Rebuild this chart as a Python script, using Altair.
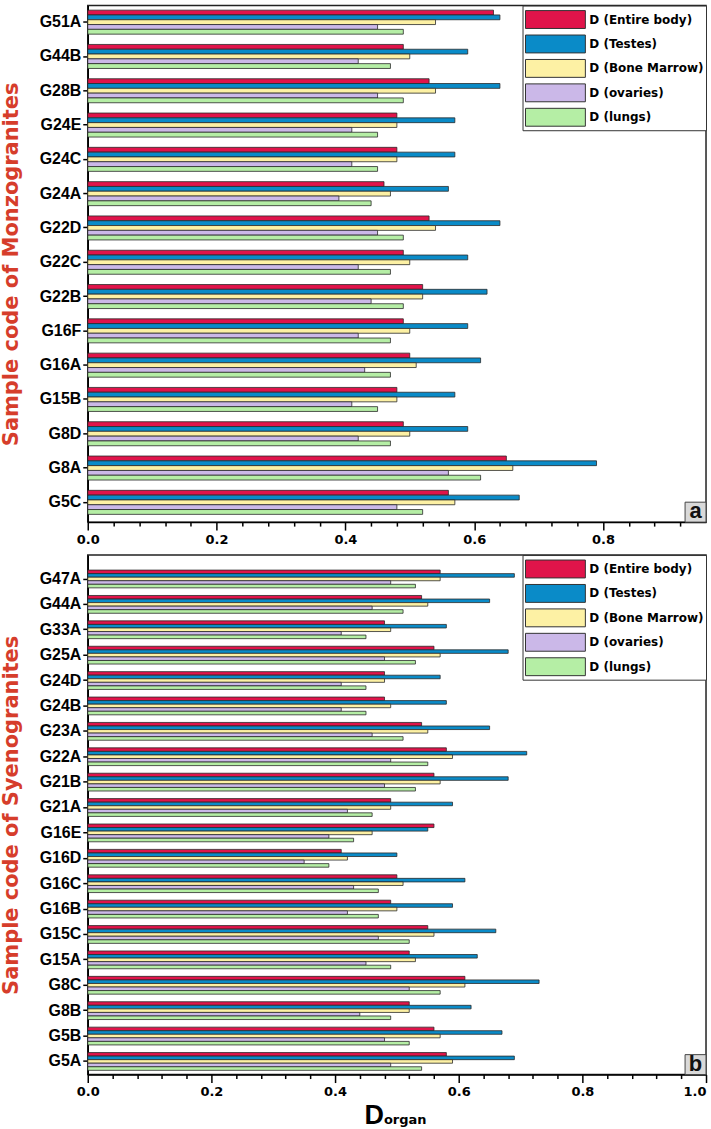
import altair as alt
import pandas as pd

# Organ dose series, in legend / drawing order
SERIES = ["D (Entire body)", "D (Testes)", "D (Bone Marrow)", "D (ovaries)", "D (lungs)"]
COLORS = ["#e0144a", "#0a8bc8", "#fdf1a4", "#cbb8e8", "#b5eea5"]

# Panel a: monzogranites (top to bottom)
monzo_samples = ["G51A", "G44B", "G28B", "G24E", "G24C", "G24A", "G22D", "G22C",
                 "G22B", "G16F", "G16A", "G15B", "G8D", "G8A", "G5C"]
monzo_body = [0.63, 0.49, 0.53, 0.48, 0.48, 0.46, 0.53, 0.49, 0.52, 0.49, 0.50, 0.48, 0.49, 0.65, 0.56]
monzo_testes = [0.64, 0.59, 0.64, 0.57, 0.57, 0.56, 0.64, 0.59, 0.62, 0.59, 0.61, 0.57, 0.59, 0.79, 0.67]
monzo_marrow = [0.54, 0.50, 0.54, 0.48, 0.48, 0.47, 0.54, 0.50, 0.52, 0.50, 0.51, 0.48, 0.50, 0.66, 0.57]
monzo_ovaries = [0.45, 0.42, 0.45, 0.41, 0.41, 0.39, 0.45, 0.42, 0.44, 0.42, 0.43, 0.41, 0.42, 0.56, 0.48]
monzo_lungs = [0.49, 0.47, 0.49, 0.45, 0.45, 0.44, 0.49, 0.47, 0.49, 0.47, 0.47, 0.45, 0.47, 0.61, 0.52]

# Panel b: syenogranites (top to bottom)
syeno_samples = ["G47A", "G44A", "G33A", "G25A", "G24D", "G24B", "G23A", "G22A", "G21B", "G21A",
                 "G16E", "G16D", "G16C", "G16B", "G15C", "G15A", "G8C", "G8B", "G5B", "G5A"]
syeno_body = [0.57, 0.54, 0.48, 0.56, 0.48, 0.48, 0.54, 0.58, 0.56, 0.49,
              0.56, 0.41, 0.50, 0.49, 0.55, 0.52, 0.61, 0.52, 0.56, 0.58]
syeno_testes = [0.69, 0.65, 0.58, 0.68, 0.57, 0.58, 0.65, 0.71, 0.68, 0.59,
                0.55, 0.50, 0.61, 0.59, 0.66, 0.63, 0.73, 0.62, 0.67, 0.69]
syeno_marrow = [0.57, 0.55, 0.49, 0.57, 0.48, 0.49, 0.55, 0.59, 0.57, 0.49,
                0.46, 0.42, 0.51, 0.50, 0.56, 0.53, 0.61, 0.52, 0.57, 0.59]
syeno_ovaries = [0.49, 0.46, 0.41, 0.48, 0.41, 0.41, 0.46, 0.49, 0.48, 0.42,
                 0.39, 0.35, 0.43, 0.42, 0.47, 0.45, 0.52, 0.44, 0.48, 0.49]
syeno_lungs = [0.53, 0.51, 0.45, 0.53, 0.45, 0.45, 0.51, 0.55, 0.53, 0.46,
               0.43, 0.39, 0.47, 0.47, 0.52, 0.49, 0.57, 0.49, 0.52, 0.54]

# Tick positions: minor every 0.04, labelled every 0.2
ticks_a = [round(i * 0.04, 2) for i in range(24)]
ticks_b = [round(i * 0.04, 2) for i in range(26)]

TITLE_RED = "#d63d2b"
W = 620
MAJOR = "abs(datum.value * 5 - round(datum.value * 5)) < 0.001"


def long_frame(samples, columns):
    rows = []
    for i, s in enumerate(samples):
        for name, vals in zip(SERIES, columns):
            rows.append({"sample": s, "series": name, "dose": vals[i]})
    return pd.DataFrame(rows)


def panel(df, samples, xmax, ticks, ytitle, letter, height, pad_outer, align, last_right):
    x_axis = alt.Axis(
        values=ticks,
        labelExpr=f"{MAJOR} ? format(datum.value, '.1f') : ''",
        tickSize={"condition": {"test": MAJOR, "value": 8}, "value": 4},
        labelAlign=({"condition": {"test": "datum.value >= 0.999", "value": "right"}, "value": "center"}
                    if last_right else "center"),
        labelFlush=False,
        labelOverlap=False,
        labelFont="DejaVu Sans", labelFontWeight="bold", labelFontSize=13, labelColor="black",
        labelPadding=3,
        tickColor="black", tickWidth=1.5,
        domainColor="black", domainWidth=1.5,
        grid=False, title=None,
    )
    y_axis = alt.Axis(
        title=ytitle,
        titleColor=TITLE_RED, titleFont="DejaVu Sans", titleFontSize=21, titleFontWeight="bold",
        titleX=-66, titleY=height / 2, titleAngle=270, titleBaseline="bottom",
        labelFont="Liberation Sans", labelFontWeight="bold", labelFontSize=16, labelColor="black",
        labelPadding=2,
        tickSize=5, tickColor="black", tickWidth=1.5,
        domainColor="black", domainWidth=1.5,
    )
    # wide flat swatches: a stretched custom symbol path
    legend = alt.Legend(
        title=None, orient="top-right", offset=0, padding=2,
        symbolType="M-2.61,-0.78H2.61V0.78H-2.61Z", symbolSize=529, symbolOffset=19,
        symbolStrokeColor="#333333", symbolStrokeWidth=1, symbolOpacity=1,
        labelOffset=22, labelFont="DejaVu Sans", labelFontWeight="bold", labelFontSize=12,
        labelColor="black", rowPadding=1.5,
        strokeColor="#333333", fillColor="white",
    )
    bars = alt.Chart(df).mark_bar(stroke="#2a2a2a", strokeWidth=0.8).encode(
        x=alt.X("dose:Q", scale=alt.Scale(domain=[0, xmax], nice=False, zero=True), axis=x_axis),
        y=alt.Y("sample:N", sort=samples,
                scale=alt.Scale(paddingInner=0.3, paddingOuter=pad_outer, align=align), axis=y_axis),
        yOffset=alt.YOffset("series:N", sort=SERIES, scale=alt.Scale(paddingInner=0, paddingOuter=0)),
        color=alt.Color("series:N", scale=alt.Scale(domain=SERIES, range=COLORS), legend=legend),
    )
    tag = pd.DataFrame({"label": [letter]})
    box = alt.Chart(tag).mark_rect(fill="#d9d9d9", stroke="#444444", strokeWidth=1).encode(
        x=alt.value(W - 21), x2=alt.value(W), y=alt.value(height - 20), y2=alt.value(height)
    )
    txt = alt.Chart(tag).mark_text(
        font="Liberation Sans", fontWeight="bold", fontSize=22, align="center", baseline="alphabetic",
        color="#111111",
    ).encode(x=alt.value(W - 10.5), y=alt.value(height - 4), text="label:N")
    return alt.layer(bars, box, txt).properties(width=W, height=height)


top = panel(
    long_frame(monzo_samples, [monzo_body, monzo_testes, monzo_marrow, monzo_ovaries, monzo_lungs]),
    monzo_samples, 0.96, ticks_a, "Sample code of Monzogranites", "a", 518, 0.18, 0.37, False,
)

bottom_h = 521
bottom = panel(
    long_frame(syeno_samples, [syeno_body, syeno_testes, syeno_marrow, syeno_ovaries, syeno_lungs]),
    syeno_samples, 1.0, ticks_b, "Sample code of Syenogranites", "b", bottom_h, 0.38, 0.78, True,
)

# Axis title "D" with subscript "organ" below panel b
big_d = alt.Chart(pd.DataFrame({"t": ["D"]})).mark_text(
    font="Liberation Sans", fontWeight="bold", fontSize=27, align="right", baseline="alphabetic",
    color="black",
).encode(x=alt.value(297), y=alt.value(bottom_h + 50), text="t:N")
sub = alt.Chart(pd.DataFrame({"t": ["organ"]})).mark_text(
    font="DejaVu Sans", fontWeight="bold", fontSize=13, align="left", baseline="alphabetic",
    color="black",
).encode(x=alt.value(297), y=alt.value(bottom_h + 50), text="t:N")

bottom = alt.layer(bottom, big_d, sub)

chart = (
    alt.vconcat(top, bottom, spacing=6)
    .resolve_scale(x="independent", y="independent", color="independent", yOffset="independent")
    .resolve_legend(color="independent")
    .configure_view(stroke="#222222", strokeWidth=1.5)
    .properties(padding={"left": 0, "top": 2, "right": 3, "bottom": 0}, background="white")
)

chart.save("out.html", embed_options={"renderer": "svg", "actions": False})
